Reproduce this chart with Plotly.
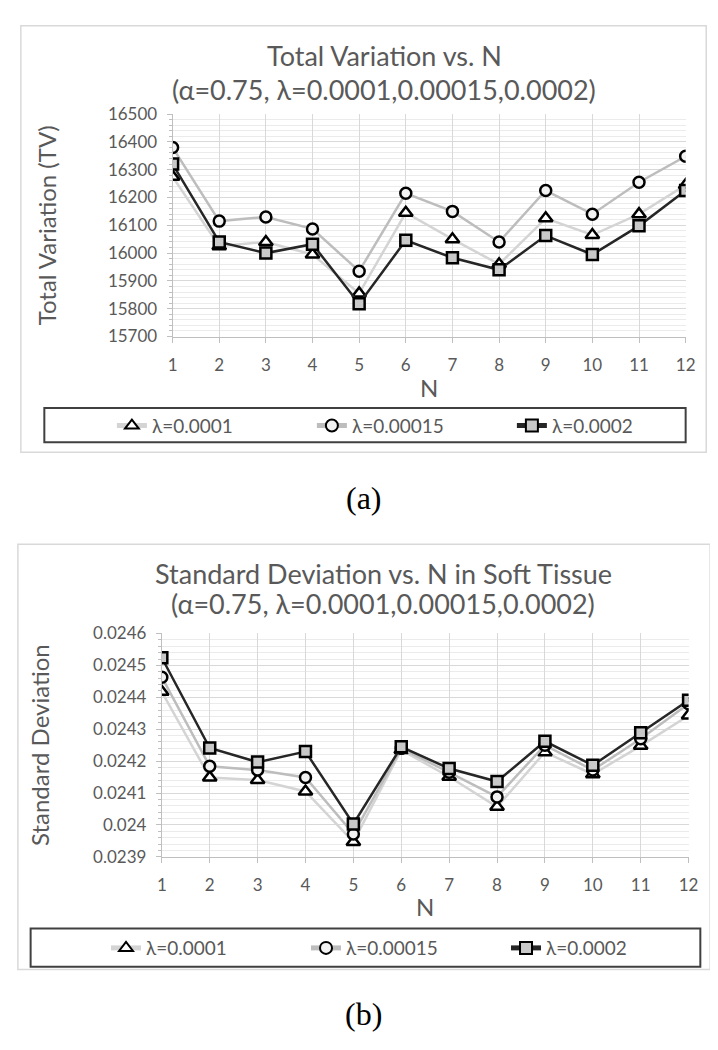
import plotly.graph_objects as go

# ---------------- data ----------------
N = [1, 2, 3, 4, 5, 6, 7, 8, 9, 10, 11, 12]
series_names = ["λ=0.0001", "λ=0.00015", "λ=0.0002"]

tv_l1 = [16275, 16025, 16040, 15995, 15855, 16145, 16050, 15960, 16125, 16065, 16140, 16245]
tv_l15 = [16380, 16115, 16130, 16087, 15935, 16215, 16150, 16040, 16225, 16140, 16255, 16348]
tv_l2 = [16320, 16040, 16000, 16032, 15818, 16046, 15983, 15940, 16063, 15995, 16098, 16225]

sd_l1 = [0.024417, 0.024149, 0.024141, 0.024105, 0.023947, 0.024235,
         0.024151, 0.024057, 0.024228, 0.024159, 0.024248, 0.024343]
sd_l15 = [0.024463, 0.024184, 0.024172, 0.024149, 0.023972, 0.024240,
          0.024165, 0.024088, 0.024250, 0.024172, 0.024270, 0.024380]
sd_l2 = [0.024524, 0.024241, 0.024197, 0.024230, 0.024003, 0.024245,
         0.024177, 0.024136, 0.024262, 0.024187, 0.024289, 0.024391]

tv_ticks = [15700, 15800, 15900, 16000, 16100, 16200, 16300, 16400, 16500]
tv_ticktext = ["15700", "15800", "15900", "16000", "16100", "16200", "16300", "16400", "16500"]
sd_ticks = [0.0239, 0.024, 0.0241, 0.0242, 0.0243, 0.0244, 0.0245, 0.0246]
sd_ticktext = ["0.0239", "0.024", "0.0241", "0.0242", "0.0243", "0.0244", "0.0245", "0.0246"]

# ---------------- styling ----------------
W, H = 718, 1050
FONT = "Lato"
GRAY_TXT = "#595959"
line_colors = ["#d4d4d4", "#bdbdbd", "#262626"]
symbols = ["triangle-up", "circle", "square"]
fills = ["#ffffff", "#f2f2f2", "#c8c8c8"]
sizes = [12, 11, 11]


def px_x(p):
    return p / W


def px_y(p):
    return 1 - p / H


fig = go.Figure()

for i, (name, ys) in enumerate(zip(series_names, [tv_l1, tv_l15, tv_l2])):
    fig.add_trace(go.Scatter(
        x=N, y=ys, name=name, mode="lines+markers",
        line=dict(color=line_colors[i], width=2.5),
        marker=dict(symbol=symbols[i], size=sizes[i], color=fills[i],
                    line=dict(color="#000000", width=2.5)),
        xaxis="x", yaxis="y", legend="legend",
    ))

for i, (name, ys) in enumerate(zip(series_names, [sd_l1, sd_l15, sd_l2])):
    fig.add_trace(go.Scatter(
        x=N, y=ys, name=name, mode="lines+markers",
        line=dict(color=line_colors[i], width=2.5),
        marker=dict(symbol=symbols[i], size=sizes[i], color=fills[i],
                    line=dict(color="#000000", width=2.5)),
        xaxis="x2", yaxis="y2", legend="legend2",
    ))

axis_common = dict(
    showline=True, linecolor="#bfbfbf", linewidth=1,
    gridcolor="#d9d9d9", gridwidth=1, zeroline=False,
    tickfont=dict(family=FONT, size=17, color=GRAY_TXT),
    ticks="outside", tickcolor="#bfbfbf", ticklen=5,
)
axis_title_font = dict(family=FONT, size=24, color=GRAY_TXT)

fig.update_layout(
    width=W, height=H,
    margin=dict(l=0, r=0, t=0, b=0),
    paper_bgcolor="white", plot_bgcolor="white",
    font=dict(family=FONT, color=GRAY_TXT),
    xaxis=dict(domain=[px_x(163), px_x(687)], range=[1, 12], tickvals=N,
               anchor="y", ticklabelstandoff=8,
               title=dict(text="N", font=axis_title_font, standoff=6),
               **axis_common),
    yaxis=dict(domain=[px_y(324), px_y(97)], range=[15700, 16500], tickvals=tv_ticks,
               ticktext=tv_ticktext, anchor="x", ticklabelstandoff=6,
               minor=dict(dtick=20, showgrid=True, gridcolor="#ebebeb", ticks="outside",
                          ticklen=3, tickcolor="#bfbfbf"),
               title=dict(text="Total Variation (TV)", font=axis_title_font, standoff=44),
               **axis_common),
    xaxis2=dict(domain=[px_x(152), px_x(690)], range=[1, 12], tickvals=N,
                anchor="y2", ticklabelstandoff=8,
                title=dict(text="N", font=axis_title_font, standoff=4),
                **axis_common),
    yaxis2=dict(domain=[px_y(855), px_y(627)], range=[0.0239, 0.0246], tickvals=sd_ticks,
                ticktext=sd_ticktext, anchor="x2", ticklabelstandoff=6,
                minor=dict(dtick=0.00002, showgrid=True, gridcolor="#ebebeb", ticks="outside",
                           ticklen=3, tickcolor="#bfbfbf"),
                title=dict(text="Standard Deviation", font=axis_title_font, standoff=36),
                **axis_common),
    legend=dict(orientation="h", x=px_x(101), xanchor="left", y=px_y(415), yanchor="middle",
                bgcolor="rgba(0,0,0,0)", borderwidth=0, entrywidth=155, entrywidthmode="pixels",
                font=dict(family=FONT, size=19, color=GRAY_TXT), itemsizing="constant"),
    legend2=dict(orientation="h", x=px_x(95), xanchor="left", y=px_y(948), yanchor="middle",
                 bgcolor="rgba(0,0,0,0)", borderwidth=0, entrywidth=155, entrywidthmode="pixels",
                 font=dict(family=FONT, size=19, color=GRAY_TXT), itemsizing="constant"),
    showlegend=True,
)

# chart frames and legend boxes
shapes = [
    dict(type="rect", xref="paper", yref="paper", x0=px_x(8), x1=px_x(708), y0=px_y(442), y1=px_y(7),
         line=dict(color="#d9d9d9", width=1.5), layer="below"),
    dict(type="rect", xref="paper", yref="paper", x0=px_x(5), x1=px_x(712), y0=px_y(970), y1=px_y(536),
         line=dict(color="#d9d9d9", width=1.5), layer="below"),
    dict(type="rect", xref="paper", yref="paper", x0=px_x(32), x1=px_x(687), y0=px_y(432), y1=px_y(397),
         line=dict(color="#404040", width=2), layer="below"),
    dict(type="rect", xref="paper", yref="paper", x0=px_x(18), x1=px_x(702), y0=px_y(967), y1=px_y(928),
         line=dict(color="#404040", width=2), layer="below"),
]
fig.update_layout(shapes=shapes)

title_font = dict(family=FONT, size=27, color=GRAY_TXT)
annotations = [
    dict(text="Total Variation vs. N", x=px_x(379), y=px_y(37)),
    dict(text="(α=0.75, λ=0.0001,0.00015,0.0002)", x=px_x(379), y=px_y(72)),
    dict(text="Standard Deviation vs. N in Soft Tissue", x=px_x(378), y=px_y(566)),
    dict(text="(α=0.75, λ=0.0001,0.00015,0.0002)", x=px_x(378), y=px_y(596)),
]
for a in annotations:
    a.update(xref="paper", yref="paper", showarrow=False, xanchor="center", yanchor="middle",
             font=title_font)
annotations += [
    dict(text="(a)", x=px_x(358), y=px_y(489), xref="paper", yref="paper", showarrow=False,
         xanchor="center", yanchor="middle",
         font=dict(family="Liberation Serif", size=32, color="#000000")),
    dict(text="(b)", x=px_x(358), y=px_y(1015), xref="paper", yref="paper", showarrow=False,
         xanchor="center", yanchor="middle",
         font=dict(family="Liberation Serif", size=32, color="#000000")),
]
fig.update_layout(annotations=annotations)

fig.write_html("out.html")
